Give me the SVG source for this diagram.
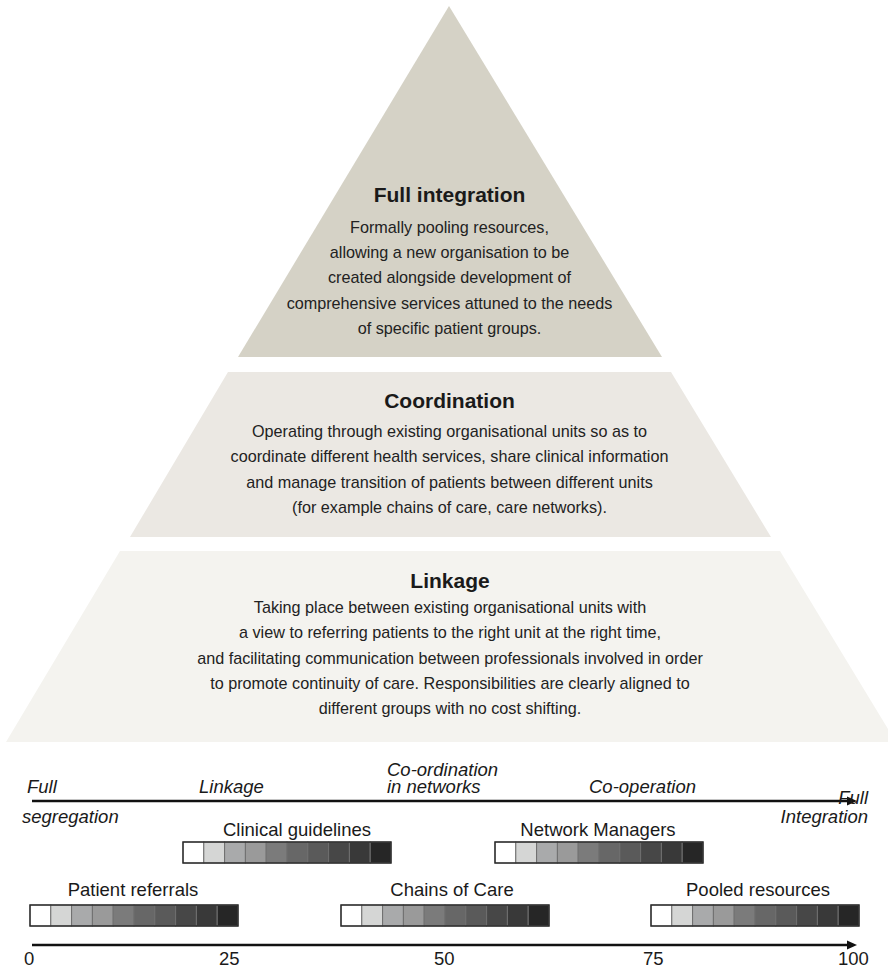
<svg xmlns="http://www.w3.org/2000/svg" xmlns:xlink="http://www.w3.org/1999/xlink" width="888" height="971" viewBox="0 0 888 971">
  <style>
    .title { font-family: "Liberation Sans", Arial, sans-serif; font-weight: bold; font-size: 21px; fill: #1a1a1a; text-anchor: middle; }
    .body { font-family: "Liberation Sans", Arial, sans-serif; font-size: 16.2px; fill: #222; text-anchor: middle; }
    .lbl { font-family: "Liberation Sans", Arial, sans-serif; font-size: 18.5px; fill: #1a1a1a; }
    .it { font-style: italic; }
    .axis { stroke: #111; stroke-width: 2.6; fill: none; }
    .cell { stroke: #6f6f6f; stroke-width: 1; }
    .frame { fill: none; stroke: #2a2a2a; stroke-width: 1.4; }
  </style>
  <defs>
    <marker id="arrowhead" viewBox="0 0 10 10" refX="0" refY="5" markerWidth="10" markerHeight="10" markerUnits="userSpaceOnUse" orient="auto">
      <path d="M0,0.5 L10,5 L0,9.5 z" fill="#111"/>
    </marker>
    <!-- ten-step grey ramp, white to near black -->
    <g id="ramp">
      <rect class="cell" x="0" y="0" width="20.8" height="21" fill="#ffffff"/>
      <rect class="cell" x="20.8" y="0" width="20.8" height="21" fill="#d5d6d5"/>
      <rect class="cell" x="41.6" y="0" width="20.8" height="21" fill="#a9aaab"/>
      <rect class="cell" x="62.4" y="0" width="20.8" height="21" fill="#9a9a9a"/>
      <rect class="cell" x="83.2" y="0" width="20.8" height="21" fill="#7b7b7b"/>
      <rect class="cell" x="104" y="0" width="20.8" height="21" fill="#676767"/>
      <rect class="cell" x="124.8" y="0" width="20.8" height="21" fill="#5a5a5a"/>
      <rect class="cell" x="145.6" y="0" width="20.8" height="21" fill="#474747"/>
      <rect class="cell" x="166.4" y="0" width="20.8" height="21" fill="#393939"/>
      <rect class="cell" x="187.2" y="0" width="20.8" height="21" fill="#262626"/>
      <rect class="frame" x="0" y="0" width="208" height="21"/>
    </g>
  </defs>

  <rect width="888" height="971" fill="#ffffff"/>

  <!-- pyramid: top tier -->
  <g id="tier-full-integration">
    <polygon points="449,6 662,357 238,357" fill="#d5d2c6"/>
    <text class="title" x="449.5" y="202">Full integration</text>
    <text class="body" x="449.5" y="233">Formally pooling resources,</text>
    <text class="body" x="449.5" y="258">allowing a new organisation to be</text>
    <text class="body" x="449.5" y="283">created alongside development of</text>
    <text class="body" x="449.5" y="309">comprehensive services attuned to the needs</text>
    <text class="body" x="449.5" y="334">of specific patient groups.</text>
  </g>

  <!-- pyramid: middle tier -->
  <g id="tier-coordination">
    <polygon points="228,372 671,372 771,537 130,537" fill="#ebe8e3"/>
    <text class="title" x="449.5" y="408">Coordination</text>
    <text class="body" x="449.5" y="437">Operating through existing organisational units so as to</text>
    <text class="body" x="449.5" y="462">coordinate different health services, share clinical information</text>
    <text class="body" x="449.5" y="488">and manage transition of patients between different units</text>
    <text class="body" x="449.5" y="513">(for example chains of care, care networks).</text>
  </g>

  <!-- pyramid: bottom tier -->
  <g id="tier-linkage">
    <polygon points="120,551 780,551 888,729 888,742 6,742" fill="#f4f3ef"/>
    <text class="title" x="450" y="588">Linkage</text>
    <text class="body" x="450" y="613">Taking place between existing organisational units with</text>
    <text class="body" x="450" y="638">a view to referring patients to the right unit at the right time,</text>
    <text class="body" x="450" y="664">and facilitating communication between professionals involved in order</text>
    <text class="body" x="450" y="689">to promote continuity of care. Responsibilities are clearly aligned to</text>
    <text class="body" x="450" y="714">different groups with no cost shifting.</text>
  </g>

  <!-- continuum arrows -->
  <g id="connectors">
    <line class="axis" x1="32" y1="801" x2="847" y2="801" marker-end="url(#arrowhead)"/>
    <line class="axis" x1="32" y1="945" x2="847" y2="945" marker-end="url(#arrowhead)"/>
  </g>

  <!-- stages along the continuum -->
  <g id="stages">
    <text class="lbl it" x="27" y="793">Full</text>
    <text class="lbl it" x="22" y="823">segregation</text>
    <text class="lbl it" x="199" y="793">Linkage</text>
    <text class="lbl it" x="387" y="776">Co-ordination</text>
    <text class="lbl it" x="387" y="793">in networks</text>
    <text class="lbl it" x="589" y="793">Co-operation</text>
    <text class="lbl it" x="868" y="804" text-anchor="end">Full</text>
    <text class="lbl it" x="868" y="823" text-anchor="end">Integration</text>
  </g>

  <!-- instruments with their grey ramps -->
  <g id="clinical-guidelines">
    <text class="lbl" x="297" y="836" text-anchor="middle">Clinical guidelines</text>
    <use xlink:href="#ramp" x="183" y="842"/>
  </g>
  <g id="network-managers">
    <text class="lbl" x="598" y="836" text-anchor="middle">Network Managers</text>
    <use xlink:href="#ramp" x="495" y="842"/>
  </g>
  <g id="patient-referrals">
    <text class="lbl" x="133" y="896" text-anchor="middle">Patient referrals</text>
    <use xlink:href="#ramp" x="30" y="905"/>
  </g>
  <g id="chains-of-care">
    <text class="lbl" x="452" y="896" text-anchor="middle">Chains of Care</text>
    <use xlink:href="#ramp" x="341" y="905"/>
  </g>
  <g id="pooled-resources">
    <text class="lbl" x="758" y="896" text-anchor="middle">Pooled resources</text>
    <use xlink:href="#ramp" x="651" y="905"/>
  </g>

  <!-- scale values -->
  <g id="scale-values">
    <text class="lbl" x="24" y="965">0</text>
    <text class="lbl" x="219" y="965">25</text>
    <text class="lbl" x="434" y="965">50</text>
    <text class="lbl" x="643" y="965">75</text>
    <text class="lbl" x="838" y="965">100</text>
  </g>
</svg>
